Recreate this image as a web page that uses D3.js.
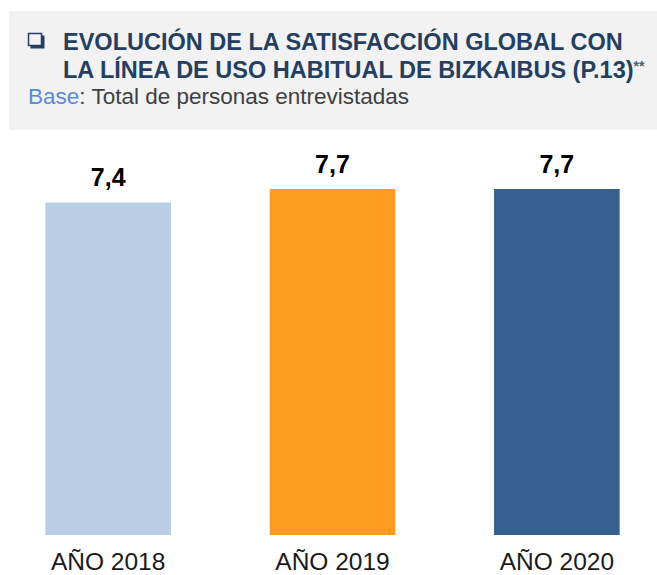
<!DOCTYPE html>
<html>
<head>
<meta charset="utf-8">
<script src="https://cdn.jsdelivr.net/npm/d3@7"></script>
<style>
  body { margin: 0; background: #fff; }
  text { font-family: "Liberation Sans", Arial, sans-serif; }
</style>
</head>
<body>
<svg id="chart" width="657" height="575"></svg>
<script>
var years = ['AÑO 2018', 'AÑO 2019', 'AÑO 2020'];
var scores = [7.4, 7.7, 7.7];
var scoreLabels = ['7,4', '7,7', '7,7'];
var barColors = ['#b9cde5', '#fd9b21', '#36608f'];
var titleLines = ['EVOLUCIÓN DE LA SATISFACCIÓN GLOBAL CON', 'LA LÍNEA DE USO HABITUAL DE BIZKAIBUS (P.13)'];

var dim = { top: 189, bottom: 535, left: -4, right: 669 };

var svg = d3.select('#chart');

// header box
svg.append('rect')
    .attr('x', 9).attr('y', 11)
    .attr('width', 648).attr('height', 119)
    .attr('fill', '#f2f2f2');

// checkbox bullet with shadow
svg.append('rect')
    .attr('x', 30.5).attr('y', 35.5)
    .attr('width', 14).attr('height', 13)
    .attr('fill', '#243f60');
svg.append('rect')
    .attr('x', 28.5).attr('y', 33.5)
    .attr('width', 13).attr('height', 12)
    .attr('fill', '#f2f2f2')
    .attr('stroke', '#243f60')
    .attr('stroke-width', 1.5);

svg.selectAll('.title')
    .data(titleLines)
    .enter().append('text')
    .attr('class', 'title')
    .attr('x', 63)
    .attr('y', function(d, i) { return 50 + i * 28; })
    .attr('font-size', 23.5)
    .attr('font-weight', 'bold')
    .attr('fill', '#243f60')
    .text(function(d) { return d; });

svg.select('.title:last-of-type')
    .append('tspan')
    .attr('font-size', 14)
    .attr('dy', -7)
    .attr('fill', '#4a5a70')
    .text('**');

var base = svg.append('text')
    .attr('x', 28).attr('y', 104)
    .attr('font-size', 22.5)
    .attr('fill', '#404040');
base.append('tspan').attr('fill', '#5b8bd2').text('Base');
base.append('tspan').text(': Total de personas entrevistadas');

// bars
var xScale = d3.scaleBand()
    .domain(years)
    .range([dim.left, dim.right])
    .paddingInner(0.44)
    .paddingOuter(0.22);

var yScale = d3.scaleLinear()
    .domain([0, 7.7])
    .range([dim.bottom, dim.top]);

svg.selectAll('.bar')
    .data(scores)
    .enter().append('rect')
    .attr('class', 'bar')
    .attr('x', function(d, i) { return xScale(years[i]); })
    .attr('y', function(d) { return yScale(d); })
    .attr('width', xScale.bandwidth())
    .attr('height', function(d) { return yScale(0) - yScale(d); })
    .attr('fill', function(d, i) { return barColors[i]; });

svg.selectAll('.value')
    .data(scores)
    .enter().append('text')
    .attr('class', 'value')
    .attr('x', function(d, i) { return xScale(years[i]) + xScale.bandwidth() / 2; })
    .attr('y', function(d) { return yScale(d) - 16; })
    .attr('text-anchor', 'middle')
    .attr('font-size', 25)
    .attr('font-weight', 'bold')
    .attr('fill', '#000')
    .text(function(d, i) { return scoreLabels[i]; });

var xAxis = d3.axisBottom(xScale).tickSize(0).tickPadding(0);
var axisG = svg.append('g')
    .attr('transform', 'translate(0,' + dim.bottom + ')')
    .call(xAxis);
axisG.select('.domain').remove();
axisG.selectAll('text')
    .attr('dy', null)
    .attr('y', 35)
    .attr('font-size', 24.5)
    .attr('font-family', '"Liberation Sans", Arial, sans-serif')
    .attr('fill', '#1a1a1a');
</script>
</body>
</html>
